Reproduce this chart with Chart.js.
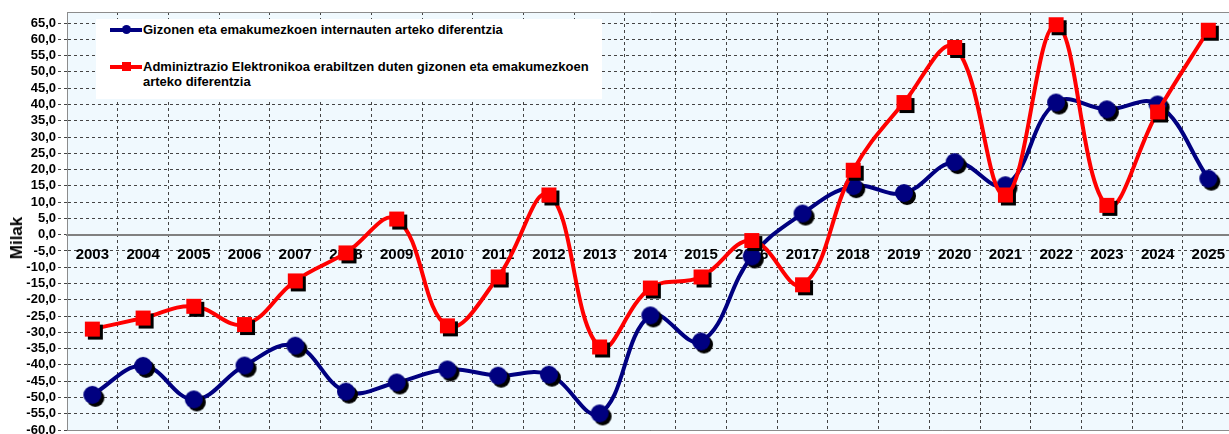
<!DOCTYPE html>
<html>
<head>
<meta charset="utf-8">
<script src="https://cdn.jsdelivr.net/npm/chart.js@4/dist/chart.umd.min.js"></script>
<style>
    body { margin: 0; background: #fff; overflow: hidden; }
    #wrap { position: relative; width: 1229px; height: 434px; overflow: hidden; }
    #myCanvas { position: absolute; left: 0; top: 0; }
    #legend {
        position: absolute; left: 96px; top: 19px; width: 506px; height: 80px;
        background: #fff; font-family: Arial, "Liberation Sans", sans-serif;
        font-size: 13px; font-weight: bold; color: #000;
    }
    .item { position: absolute; left: 47px; line-height: 15px; }
    .swatch { position: absolute; left: 14px; width: 32px; height: 4px; }
    .dot { position: absolute; left: 12px; top: -3px; width: 9px; height: 9px; border-radius: 50%; }
    .sq { position: absolute; left: 12px; top: -3px; width: 9px; height: 9px; }
    #ytitle {
        position: absolute; left: 17px; top: 238px;
        transform: translate(-50%, -50%) rotate(-90deg);
        font-family: Arial, "Liberation Sans", sans-serif; font-size: 17px; font-weight: bold;
    }
</style>
</head>
<body>
<div id="wrap">
    <!-- the plot runs a few pixels past the right edge, as in the original -->
    <canvas id="myCanvas" width="1236" height="434"></canvas>
    <div id="ytitle">Milak</div>
    <div id="legend">
        <div class="swatch" style="top:9px;background:#000080"><div class="dot" style="background:#000080"></div></div>
        <div class="item" style="top:3px">Gizonen eta emakumezkoen internauten arteko diferentzia</div>
        <div class="swatch" style="top:46px;background:#ff0000"><div class="sq" style="background:#ff0000"></div></div>
        <div class="item" style="top:40px">Adminiztrazio Elektronikoa erabiltzen duten gizonen eta emakumezkoen<br>arteko diferentzia</div>
    </div>
</div>
<script>
var years = ["2003", "2004", "2005", "2006", "2007", "2008", "2009", "2010", "2011", "2012", "2013", "2014",
    "2015", "2016", "2017", "2018", "2019", "2020", "2021", "2022", "2023", "2024", "2025"];
var internauten = [-49.2, -40.3, -50.6, -40.2, -34.1, -48.2, -45.4, -41.4, -43.3, -43.0, -54.9, -24.8,
    -32.8, -6.7, 6.5, 14.9, 12.8, 22.3, 15.2, 40.6, 38.5, 40.0, 17.2];
var administrazio = [-29.0, -25.6, -22.0, -27.6, -14.2, -5.6, 4.8, -28.0, -13.0, 12.2, -34.5, -16.4,
    -13.0, -1.8, -15.4, 19.8, 40.6, 57.5, 12.2, 64.5, 9.0, 37.7, 62.8];

function marker(shape, color, size, off) {
    var c = document.createElement("canvas");
    var full = size + off * 2 + 2;
    c.width = full;
    c.height = full;
    var ctx = c.getContext("2d");
    var mid = full / 2;
    function draw(x, y, fill) {
        ctx.fillStyle = fill;
        ctx.beginPath();
        if (shape == "circle") {
            ctx.arc(x, y, size / 2, 0, Math.PI * 2);
        } else {
            ctx.rect(x - size / 2, y - size / 2, size, size);
        }
        ctx.fill();
    }
    draw(mid + off, mid + off, "#000");
    draw(mid, mid, color);
    return c;
}

// light plot background + grey frame (left, top, bottom)
var plotBox = {
    id: "plotBox",
    beforeDraw: function (chart) {
        var a = chart.chartArea, ctx = chart.ctx;
        ctx.save();
        ctx.fillStyle = "#f0f9fe";
        ctx.fillRect(a.left, a.top, a.right - a.left, a.bottom - a.top);
        ctx.restore();
    },
    afterDraw: function (chart) {
        var a = chart.chartArea, ctx = chart.ctx;
        ctx.save();
        ctx.strokeStyle = "#8c8c8c";
        ctx.lineWidth = 1;
        ctx.beginPath();
        ctx.moveTo(a.right, a.top + 0.5);
        ctx.lineTo(a.left + 0.5, a.top + 0.5);
        ctx.lineTo(a.left + 0.5, a.bottom + 0.5);
        ctx.lineTo(a.right, a.bottom + 0.5);
        ctx.stroke();
        ctx.restore();
    }
};

new Chart(document.getElementById("myCanvas"), {
    type: "line",
    data: {
        labels: years,
        datasets: [
            {
                label: "Gizonen eta emakumezkoen internauten arteko diferentzia",
                data: internauten,
                borderColor: "#000080",
                backgroundColor: "#000080",
                borderWidth: 4,
                tension: 0.4,
                pointStyle: marker("circle", "#000080", 18, 3),
                pointRadius: 9,
                order: 2
            },
            {
                label: "Adminiztrazio Elektronikoa erabiltzen duten gizonen eta emakumezkoen arteko diferentzia",
                data: administrazio,
                borderColor: "#ff0000",
                backgroundColor: "#ff0000",
                borderWidth: 4,
                tension: 0.4,
                pointStyle: marker("square", "#ff0000", 15, 3),
                pointRadius: 9,
                order: 1
            }
        ]
    },
    options: {
        responsive: false,
        animation: false,
        layout: { autoPadding: false, padding: { top: 12, right: 1, bottom: 4, left: 0 } },
        plugins: { legend: { display: false }, tooltip: { enabled: false } },
        scales: {
            x: {
                position: { y: 0 },
                offset: true,
                grid: { offset: true, color: "#444", drawTicks: false },
                border: { display: true, color: "#808080", width: 2, dash: [3, 3] },
                ticks: {
                    color: "#000", padding: 11, maxRotation: 0, autoSkip: false,
                    font: { family: "Arial", size: 15, weight: "bold" }
                }
            },
            y: {
                min: -60,
                max: 68.4,
                afterFit: function (scale) {
                    scale.width = 67;
                    scale.paddingTop = 0;
                    scale.paddingBottom = 0;
                },
                grid: { color: "#444", tickLength: 9, tickBorderDash: [3, 3] },
                border: { display: true, color: "#8c8c8c", dash: [3, 3] },
                ticks: {
                    stepSize: 5, includeBounds: false, autoSkip: false, color: "#000", padding: 2,
                    font: { family: "Arial", size: 13, weight: "bold" },
                    callback: function (v) { return v.toFixed(1).replace(".", ","); }
                }
            }
        }
    },
    plugins: [plotBox]
});
</script>
</body>
</html>
